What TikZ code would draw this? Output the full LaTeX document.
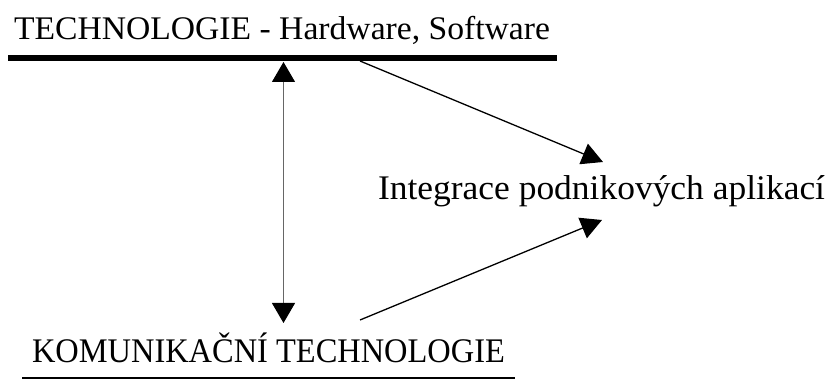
\documentclass[tikz,border=0pt]{standalone}
\usepackage{fontspec}
\setmainfont{Liberation Serif}
\usetikzlibrary{arrows.meta}
\begin{document}
\begin{tikzpicture}[x=1pt,y=-1pt,
  label text/.style={inner sep=0pt, outer sep=0pt},
  bigtip/.style={Triangle[length=20pt,width=23pt,color=black,fill=black]},
  link/.style={line width=1.3pt, black, -{Triangle[length=21pt,width=22pt]}},
  twoway/.style={line width=1.1pt, black!60, {Triangle[length=20pt,width=23pt,color=black,fill=black]}-{Triangle[length=20pt,width=23pt,color=black,fill=black]}}]
  \useasboundingbox (0,0) rectangle (833,379);

  % labels
  \node[label text, anchor=base west] (tech) at (14,40)
    {\resizebox{536pt}{\height}{\fontsize{33}{40}\selectfont TECHNOLOGIE - Hardware, Software}};
  \node[label text, anchor=base west] (eai) at (378,200)
    {\resizebox{447pt}{\height}{\fontsize{34.5}{41}\selectfont Integrace podnikových aplikací}};
  \node[label text, anchor=base east] (kom) at (505,363)
    {\resizebox{473pt}{\height}{\fontsize{34.5}{41}\selectfont KOMUNIKAČNÍ TECHNOLOGIE}};

  % rules under the two headings
  \coordinate (barL) at (8,58);
  \coordinate (barR) at (557,58);
  \coordinate (lineL) at (22,377.8);
  \coordinate (lineR) at (515,377.8);
  \draw[line width=6pt] (barL) -- (barR);
  \draw[line width=1.5pt] (lineL) -- (lineR);

  % connector end points
  \coordinate (vTop) at (283.5,62);
  \coordinate (vBot) at (283.5,323);
  \coordinate (aTop) at (360,61);
  \coordinate (aBot) at (360,320);
  \coordinate (eaiTop) at (603,162);
  \coordinate (eaiBot) at (602,220);

  \draw[twoway] (vTop) -- (vBot);
  \draw[link] (aTop) -- (eaiTop);
  \draw[link] (aBot) -- (eaiBot);
\end{tikzpicture}
\end{document}
